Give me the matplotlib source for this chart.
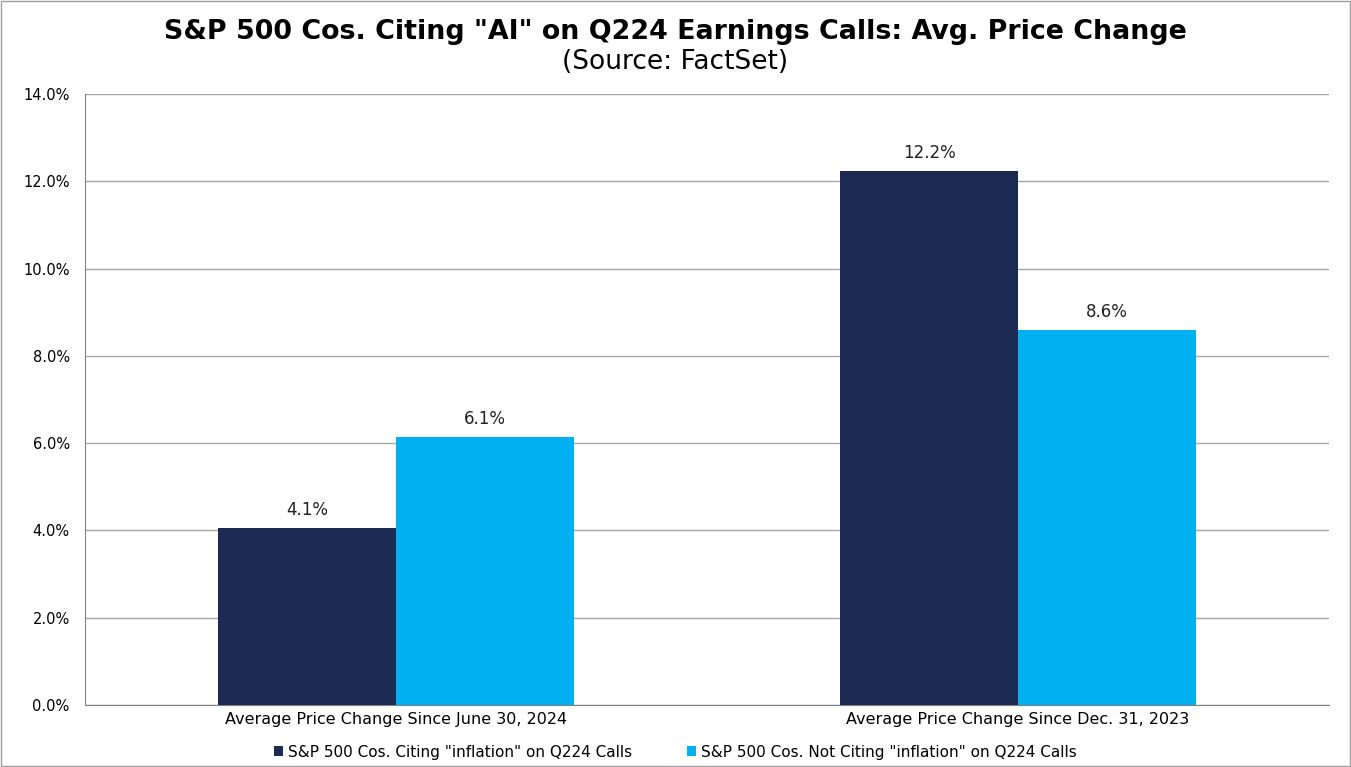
import numpy as np
import matplotlib.pyplot as plt
from matplotlib.patches import Rectangle

# the reference text is wide, DejaVu is closer than Arial look-alikes
plt.rcParams['font.family'] = ['DejaVu Sans']

categories = ["Average Price Change Since June 30, 2024", "Average Price Change Since Dec. 31, 2023"]
series_names = ['S&P 500 Cos. Citing "inflation" on Q224 Calls',
                'S&P 500 Cos. Not Citing "inflation" on Q224 Calls']
citing = [4.06, 12.24]
not_citing = [6.14, 8.59]
labels_citing = ["4.1%", "12.2%"]
labels_not = ["6.1%", "8.6%"]
yticks = [0, 2, 4, 6, 8, 10, 12, 14]

dark = "#1B2A52"
light = "#00B0F0"

fig = plt.figure(figsize=(13.51, 7.67), dpi=100)
ax = fig.add_axes([85/1351, 1-705/767, 1244/1351, 611/767])

x = np.arange(len(categories))
w = 0.286
b1 = ax.bar(x - w/2, citing, w, color=dark, label=series_names[0], zorder=3)
b2 = ax.bar(x + w/2, not_citing, w, color=light, label=series_names[1], zorder=3)

for rect, lab in zip(b1, labels_citing):
    ax.text(rect.get_x() + rect.get_width()/2, rect.get_height() + 0.2, lab,
            ha="center", va="bottom", fontsize=12, color="#222222")
for rect, lab in zip(b2, labels_not):
    ax.text(rect.get_x() + rect.get_width()/2, rect.get_height() + 0.2, lab,
            ha="center", va="bottom", fontsize=12, color="#222222")

ax.set_xlim(-0.5, 1.5)
ax.set_ylim(0, 14)
ax.set_yticks(yticks)
ax.set_yticklabels([f"{t:.1f}%" for t in yticks], fontsize=10.5)
ax.set_xticks(x)
ax.set_xticklabels(categories, fontsize=11.5)
ax.tick_params(axis="x", length=0, pad=5)
ax.tick_params(axis="y", length=0, pad=11)
ax.grid(axis="y", color="#A6A6A6", linewidth=1, zorder=0)
for s in ["top", "right"]:
    ax.spines[s].set_visible(False)
ax.spines["left"].set_color("#808080")
ax.spines["bottom"].set_color("#808080")

fig.text(0.5, 1-32/767, 'S&P 500 Cos. Citing "AI" on Q224 Earnings Calls: Avg. Price Change',
         ha="center", va="center", fontsize=19.4, fontweight="bold")
fig.text(0.5, 1-62/767, "(Source: FactSet)", ha="center", va="center", fontsize=19)

fig.legend(handles=[b1, b2], loc="center", bbox_to_anchor=(0.5, 1-752/767), ncol=2,
           frameon=False, fontsize=11, handlelength=0.6, handleheight=0.6,
           handletextpad=0.3, columnspacing=3.6)

fig.patches.append(Rectangle((0.001, 0.001), 0.998, 0.998, transform=fig.transFigure,
                             fill=False, edgecolor="#A0A0A0", linewidth=1))

fig.savefig("out.png", dpi=100)
